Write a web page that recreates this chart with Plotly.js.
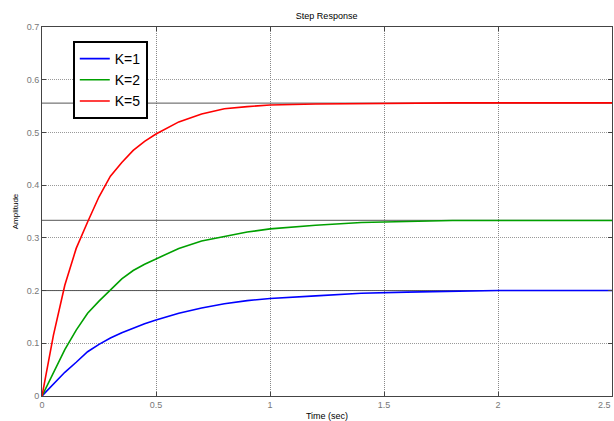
<!DOCTYPE html>
<html>
<head>
<meta charset="utf-8">
<script src="https://cdn.plot.ly/plotly-3.0.1.min.js"></script>
<style>html,body{margin:0;padding:0;background:#fff;}#chart{width:614px;height:421px;}</style>
</head>
<body>
<div id="chart"></div>
<script>
var time   = [0, 0.05, 0.1, 0.15, 0.2, 0.25, 0.3, 0.35, 0.4, 0.45, 0.5, 0.6, 0.7, 0.8, 0.9, 1.0, 1.2, 1.4, 1.6, 1.8, 2.0, 2.5];
var k1     = [0, 0.022, 0.045, 0.064, 0.084, 0.098, 0.110, 0.120, 0.129, 0.137, 0.144, 0.157, 0.167, 0.175, 0.181, 0.185, 0.190, 0.195, 0.197, 0.199, 0.200, 0.200];
var k2     = [0, 0.045, 0.088, 0.125, 0.157, 0.180, 0.201, 0.222, 0.238, 0.250, 0.260, 0.280, 0.294, 0.303, 0.311, 0.317, 0.324, 0.329, 0.331, 0.333, 0.333, 0.333];
var k5     = [0, 0.115, 0.210, 0.280, 0.330, 0.378, 0.417, 0.443, 0.466, 0.483, 0.497, 0.520, 0.535, 0.545, 0.549, 0.552, 0.554, 0.555, 0.555, 0.556, 0.556, 0.556];
var seriesNames = ['K=1', 'K=2', 'K=5'];
var steady = [0.2, 0.3333, 0.5556];
var xTicks = [0, 0.5, 1, 1.5, 2];
var xTickText = ['0', '0.5', '1', '1.5', '2'];
var xEndLabel = '2.5';
var yTicks = [0, 0.1, 0.2, 0.3, 0.4, 0.5, 0.6, 0.7];

var colors = ['#0000ff', '#00a000', '#ff0000'];
var ys = [k1, k2, k5];
var traces = [];
steady.forEach(function (v) {
  traces.push({x: [time[0], time[time.length - 1]], y: [v, v], mode: 'lines',
    line: {color: '#555', width: 1}, showlegend: false, hoverinfo: 'skip'});
});
ys.forEach(function (y, i) {
  traces.push({x: time, y: y, mode: 'lines', name: seriesNames[i],
    line: {color: colors[i], width: 1.6}});
});

var layout = {
  width: 614, height: 421,
  margin: {l: 42, r: 2, t: 27, b: 25},
  paper_bgcolor: '#fff', plot_bgcolor: '#fff',
  font: {family: 'Liberation Sans, Arial, sans-serif', color: '#000'},
  title: {text: 'Step Response', font: {size: 9, color: '#000'}, x: 0.532, xanchor: 'center', y: 0.962, yanchor: 'middle'},
  xaxis: {range: [0, 2.5], tickvals: xTicks, ticktext: xTickText, ticks: 'inside', ticklen: 4,
    tickcolor: '#444', showline: true, linecolor: '#444', linewidth: 1, mirror: 'ticks',
    showgrid: true, gridcolor: '#888', griddash: '1px,1px', gridwidth: 1, zeroline: false,
    tickfont: {size: 9, color: '#777'},
    title: {text: 'Time (sec)', font: {size: 9, color: '#000'}, standoff: 9}},
  yaxis: {range: [0, 0.7], tickvals: yTicks, ticks: 'inside', ticklen: 4,
    tickcolor: '#444', showline: true, linecolor: '#444', linewidth: 1, mirror: 'ticks',
    showgrid: true, gridcolor: '#999', griddash: '1px,1px', gridwidth: 1, zeroline: false,
    tickfont: {size: 9, color: '#777'},
    title: {text: 'Amplitude', font: {size: 8, color: '#000'}, standoff: 6}},
  annotations: [{x: 2.5, xref: 'x', y: 0, yref: 'paper', yanchor: 'top', xanchor: 'right',
    xshift: 1, yshift: -2, text: xEndLabel, showarrow: false, font: {size: 9, color: '#777'}}],
  legend: {x: 0.054, y: 0.962, xanchor: 'left', yanchor: 'top', bgcolor: '#fff',
    bordercolor: '#000', borderwidth: 2, font: {size: 14, color: '#000'},
    itemwidth: 30, tracegroupgap: 0},
  showlegend: true
};
Plotly.newPlot('chart', traces, layout, {displayModeBar: false, staticPlot: true});
</script>
</body>
</html>
